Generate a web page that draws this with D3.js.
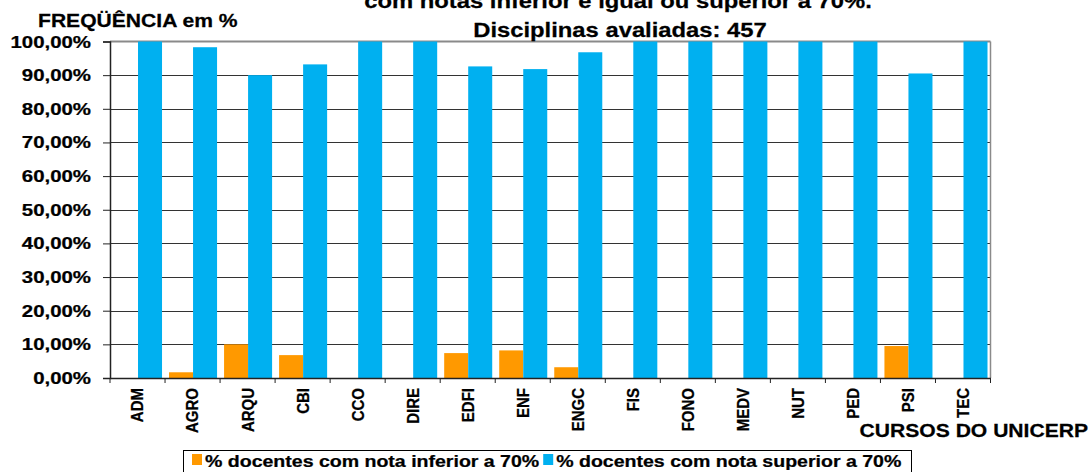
<!DOCTYPE html>
<html>
<head>
<meta charset="utf-8">
<script src="https://cdn.jsdelivr.net/npm/d3@7"></script>
<style>
  html, body { margin: 0; padding: 0; background: #fff; }
  svg { display: block; font-family: "Liberation Sans", Arial, sans-serif; font-weight: bold; }
  svg text { stroke: #000; stroke-width: 0.25px; }
</style>
</head>
<body>
<svg id="chart" width="1092" height="472"></svg>
<script>
// Courses evaluated
const categories = ["ADM","AGRO","ARQU","CBI","CCO","DIRE","EDFI","ENF","ENGC","FIS","FONO","MEDV","NUT","PED","PSI","TEC"];
// % of teachers with grade below 70%
const inferior = [0, 1.7, 10.0, 6.8, 0, 0, 7.4, 8.2, 3.2, 0, 0, 0, 0, 0, 9.5, 0];
// % of teachers with grade above 70%
const superior = [100, 98.3, 90.0, 93.2, 100, 100, 92.6, 91.8, 96.8, 100, 100, 100, 100, 100, 90.5, 100];
const yTicks = [0, 10, 20, 30, 40, 50, 60, 70, 80, 90, 100];
const seriesNames = ["% docentes com nota inferior a 70%", "% docentes com nota superior a 70%"];
const titleLines = ["com notas inferior e igual ou superior a 70%.", "Disciplinas avaliadas: 457"];

const colors = ["#FF9900", "#00B0F0"];
const svg = d3.select("#chart");

const plot = { left: 110, right: 990.5, top: 41.5, bottom: 378 };

const x0 = d3.scaleBand().domain(categories).range([plot.left, plot.right]).padding(0);
const x1 = d3.scaleBand().domain([0, 1]).range([4, x0.bandwidth() - 3]).padding(0);
const y = d3.scaleLinear().domain([0, 100]).range([plot.bottom, plot.top]);

const ptBR = d3.formatLocale({ decimal: ",", thousands: ".", grouping: [3], currency: ["R$", ""] });
const pct = ptBR.format(".2%");

// horizontally stretched text helper
function label(parent, x, yy, text, size, sx, anchor) {
  return parent.append("g")
    .attr("transform", `translate(${x},${yy}) scale(${sx},1)`)
    .append("text")
    .attr("font-size", size)
    .attr("text-anchor", anchor || "start")
    .attr("fill", "#000")
    .text(text);
}

// gridlines
svg.append("g").selectAll("line")
  .data(yTicks.filter(d => d > 0 && d < 100))
  .join("line")
  .attr("x1", plot.left).attr("x2", plot.right)
  .attr("y1", d => Math.round(y(d)) + 0.5).attr("y2", d => Math.round(y(d)) + 0.5)
  .attr("stroke", "#333").attr("stroke-width", 1.2);

// plot frame (top and right)
svg.append("line")
  .attr("x1", plot.left).attr("x2", plot.right)
  .attr("y1", plot.top).attr("y2", plot.top)
  .attr("stroke", "#8a8a8a").attr("stroke-width", 2);
svg.append("line")
  .attr("x1", plot.right).attr("x2", plot.right)
  .attr("y1", plot.top).attr("y2", plot.bottom)
  .attr("stroke", "#8a8a8a").attr("stroke-width", 1.5);

// bars
const rows = categories.map((c, i) => ({ c, v: [inferior[i], superior[i]] }));
const groups = svg.append("g").selectAll("g")
  .data(rows).join("g")
  .attr("transform", d => `translate(${x0(d.c)},0)`);
groups.selectAll("rect")
  .data(d => d.v.map((v, k) => ({ k, v })))
  .join("rect")
  .attr("x", d => x1(d.k))
  .attr("width", x1.bandwidth())
  .attr("y", d => y(d.v))
  .attr("height", d => y(0) - y(d.v))
  .attr("fill", d => colors[d.k]);

// y axis
const yAxis = svg.append("g").attr("transform", `translate(${plot.left},0)`)
  .call(d3.axisLeft(y).tickValues(yTicks).tickSize(7).tickFormat(() => ""));
yAxis.select(".domain").attr("stroke", "#222").attr("stroke-width", 1.5);
yAxis.selectAll(".tick line").attr("stroke", "#222");
yTicks.forEach(t => {
  label(svg, 91, y(t) + 6, pct(t / 100), 17, 1.2, "end");
});

// x axis
const xAxis = svg.append("g").attr("transform", `translate(0,${plot.bottom})`)
  .call(d3.axisBottom(x0).tickSize(0).tickFormat(""));
xAxis.select(".domain").attr("stroke", "#222").attr("stroke-width", 1.5);
svg.append("g").selectAll("line")
  .data(categories.concat(["__end"]))
  .join("line")
  .attr("x1", (d, i) => i < categories.length ? x0(d) : plot.right)
  .attr("x2", (d, i) => i < categories.length ? x0(d) : plot.right)
  .attr("y1", plot.bottom).attr("y2", plot.bottom + 5)
  .attr("stroke", "#222");
svg.append("g").selectAll("text")
  .data(categories).join("text")
  .attr("transform", d => `translate(${x0(d) + x0.bandwidth() / 2},388) scale(1.1,1) rotate(-90)`)
  .attr("text-anchor", "end")
  .attr("dy", "0.36em")
  .attr("font-size", 15)
  .text(d => d);

// titles
label(svg, 618, 8, titleLines[0], 20, 1.19, "middle");
label(svg, 620, 36.5, titleLines[1], 20, 1.19, "middle");
label(svg, 38, 26.5, "FREQÜÊNCIA em %", 18.5, 1.14, "start");
label(svg, 1088, 437, "CURSOS DO UNICERP", 18.5, 1.14, "end");

// legend
const legend = svg.append("g");
legend.append("rect")
  .attr("x", 183.5).attr("y", 450.5).attr("width", 728).attr("height", 40)
  .attr("fill", "#fff").attr("stroke", "#000").attr("stroke-width", 1);
const legendSx = 1.15;
let lx = 192;
seriesNames.forEach((name, k) => {
  legend.append("rect").attr("x", lx).attr("y", 454).attr("width", 10).attr("height", 11).attr("fill", colors[k]);
  const t = label(legend, lx + 13, 466.5, name, 17, legendSx, "start");
  lx += 13 + t.node().getComputedTextLength() * legendSx + 4;
});
</script>
</body>
</html>
